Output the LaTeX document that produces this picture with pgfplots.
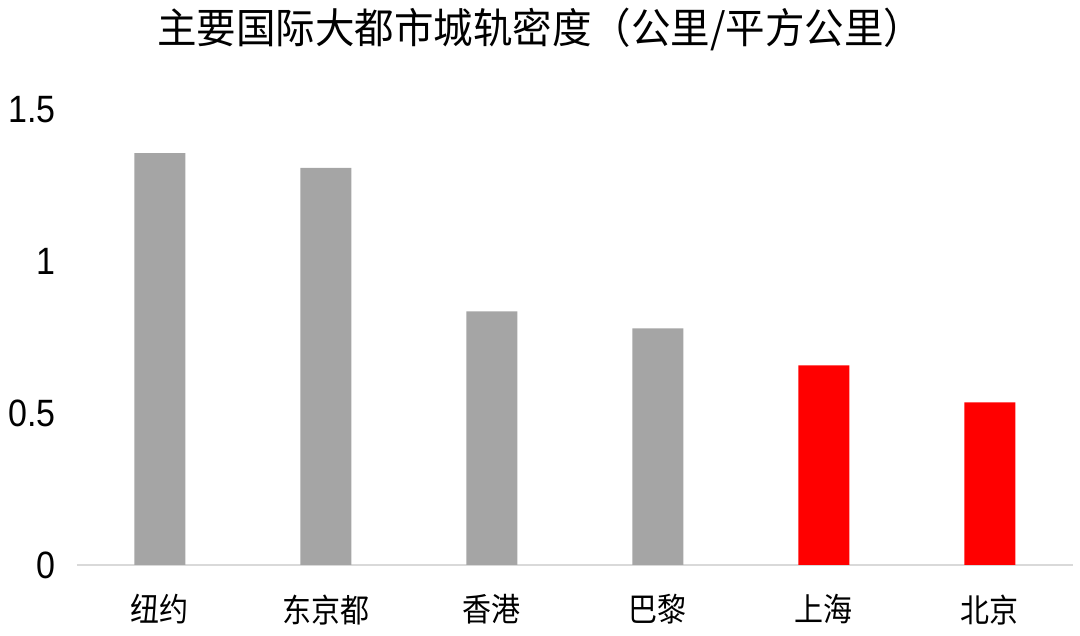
\documentclass[border=0pt]{standalone}
\usepackage{pgfplots}
\pgfplotsset{compat=1.18}
\usepackage{fontspec}
\setmainfont{Liberation Sans}
\newfontfamily\cjk{Noto Sans CJK SC}
\definecolor{bargray}{HTML}{A5A5A5}
\definecolor{barred}{HTML}{FF0000}
\definecolor{axisgray}{HTML}{D9D9D9}

\begin{document}
\begin{tikzpicture}
\begin{axis}[
    at={(0pt,0pt)}, anchor=south west,
    scale only axis,
    width=996pt, height=455pt,
    xmin=-0.5, xmax=5.5,
    ymin=0, ymax=1.5,
    ybar, bar width=51pt, bar shift=0pt,
    axis x line*=bottom,
    axis y line*=left,
    x axis line style={axisgray, line width=1.5pt, -},
    y axis line style={draw=none},
    xtick={0,1,2,3,4,5},
    xticklabels={纽约,东京都,香港,巴黎,上海,北京},
    xtick style={draw=none},
    x tick label style={font=\cjk\fontsize{29}{29}\selectfont, yscale=1.12, yshift=-19pt},
    ytick={0,0.5,1,1.5},
    yticklabels={0,0.5,1,1.5},
    ytick style={draw=none},
    /pgf/number format/assume math mode=true,
    y tick label style={font=\fontsize{34}{34}\selectfont, yscale=1.12, xshift=-18pt},
    clip=false,
]
\addplot[fill=bargray, draw=none] coordinates {(0,1.358) (1,1.309) (2,0.836) (3,0.780)};
\addplot[fill=barred, draw=none] coordinates {(4,0.658) (5,0.536)};
\node[font=\cjk\fontsize{39.5}{39.5}\selectfont, yscale=1.05] at (axis description cs:0.465,1.178) {主要国际大都市城轨密度（公里/平方公里）};
\end{axis}
\pgfresetboundingbox
\useasboundingbox (-77pt,-71pt) rectangle (1003pt,565pt);
\end{tikzpicture}
\end{document}
